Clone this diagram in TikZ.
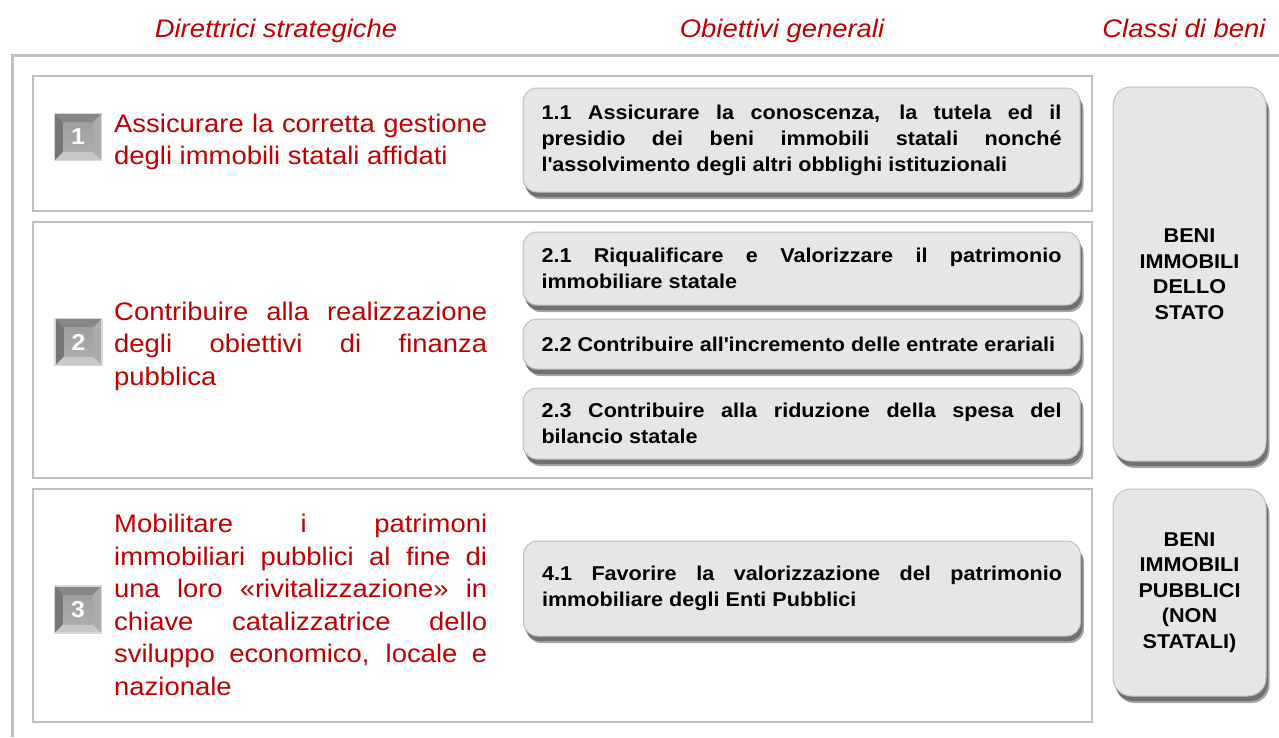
\documentclass[tikz,border=0pt]{standalone}
\usepackage{fontspec}
\setmainfont[FakeStretch=1.08]{Liberation Sans}
\usetikzlibrary{shadows}
\definecolor{dred}{RGB}{192,0,0}
\definecolor{framegray}{RGB}{192,192,192}
\definecolor{objface}{RGB}{230,230,230}
\definecolor{objrim}{RGB}{190,190,190}
\definecolor{objshadow}{RGB}{112,112,112}
\definecolor{objshadowlight}{RGB}{165,165,165}
\definecolor{badgerim}{RGB}{215,215,215}
\definecolor{badgetop}{RGB}{135,135,135}
\definecolor{badgeleft}{RGB}{118,118,118}
\definecolor{badgeright}{RGB}{172,172,172}
\definecolor{badgebot}{RGB}{200,200,200}
\definecolor{badgemid}{RGB}{158,158,158}
\begin{document}
\begin{tikzpicture}[x=1pt,y=-1pt,
  header/.style={font=\itshape\fontsize{25.4}{30}\selectfont, text=dred, anchor=base, inner sep=0pt},
  outerframe/.style={draw=framegray, line width=3pt},
  section/.style={draw=framegray, line width=2.2pt},
  badge/.style={minimum size=47pt, inner sep=0pt, draw=badgerim, line width=1.5pt, fill=badgemid,
    text=white, font=\bfseries\fontsize{23}{23}\selectfont,
    path picture={
      \fill[badgetop] (path picture bounding box.north west) -- (path picture bounding box.north east) -- (path picture bounding box.center) -- cycle;
      \fill[badgeleft] (path picture bounding box.north west) -- (path picture bounding box.south west) -- (path picture bounding box.center) -- cycle;
      \fill[badgeright] (path picture bounding box.north east) -- (path picture bounding box.south east) -- (path picture bounding box.center) -- cycle;
      \fill[badgebot] (path picture bounding box.south west) -- (path picture bounding box.south east) -- (path picture bounding box.center) -- cycle;
      \shade[top color=badgetop!80!white, bottom color=badgeright] ([shift={(9pt,-9pt)}]path picture bounding box.north west) rectangle ([shift={(-9pt,9pt)}]path picture bounding box.south east);
    }},
  dtext/.style={anchor=west, inner sep=0pt, text width=373pt, align=justify, text=dred,
    font=\fontsize{25.4}{32.5}\selectfont},
  raised/.style={fill=objface, draw=objrim, line width=1pt,
    general shadow={fill=objshadowlight, shadow xshift=3.5pt, shadow yshift=-7pt},
    general shadow={fill=objshadow, shadow xshift=2pt, shadow yshift=-5pt}},
  objbox/.style={raised, rounded corners=14pt,
    minimum width=557pt, text width=520pt, align=justify, inner xsep=18.5pt, inner ysep=0pt,
    font=\bfseries\fontsize{20}{26}\selectfont},
  classbox/.style={raised, rounded corners=18pt,
    minimum width=153pt, text width=150pt, align=center, inner xsep=1.5pt, inner ysep=0pt,
    font=\bfseries\fontsize{20}{25.5}\selectfont}
]
\useasboundingbox (0,0) rectangle (1279,737);

% headers
\node[header] (h1) at (276,37) {Direttrici strategiche};
\node[header] (h2) at (782,37) {Obiettivi generali};
\node[header] (h3) at (1184,37) {Classi di beni};

% frames
\draw[outerframe] (12,737) -- (12,55) -- (1279,55);
\draw[section] (33,76) rectangle (1092,211);
\draw[section] (33,222) rectangle (1092,478);
\draw[section] (33,489) rectangle (1092,722);

% badges and strategic directions
\node[badge] (b1) at (78,137) {1};
\node[dtext] (d1) at (114,142) {Assicurare la corretta gestione\linebreak degli immobili statali affidati};

\node[badge] (b2) at (78.5,342) {2};
\node[dtext] (d2) at (114,346) {Contribuire alla realizzazione\linebreak degli obiettivi di finanza\linebreak pubblica};

\node[badge] (b3) at (78,609.5) {3};
\node[dtext] (d3) at (114,605) {Mobilitare i patrimoni\linebreak immobiliari pubblici al fine di\linebreak una loro «rivitalizzazione» in\linebreak chiave catalizzatrice dello\linebreak sviluppo economico, locale e\linebreak nazionale};

% general objectives
\node[objbox, minimum height=104pt] (o11) at (801.5,140) {1.1 Assicurare la conoscenza, la tutela ed il\linebreak presidio dei beni immobili statali nonché\linebreak l\textquotesingle assolvimento degli altri obblighi istituzionali};
\node[objbox, minimum height=73pt] (o21) at (801.5,268.5) {2.1 Riqualificare e Valorizzare il patrimonio\linebreak immobiliare statale};
\node[objbox, minimum height=50pt] (o22) at (801.5,344) {2.2 Contribuire all\textquotesingle incremento delle entrate erariali};
\node[objbox, minimum height=71pt] (o23) at (801.5,423.5) {2.3 Contribuire alla riduzione della spesa del\linebreak bilancio statale};
\node[objbox, minimum height=95pt] (o41) at (802,588.5) {4.1 Favorire la valorizzazione del patrimonio\linebreak immobiliare degli Enti Pubblici};

% asset classes
\node[classbox, minimum height=374pt] (c1) at (1189.5,274) {BENI\\IMMOBILI\\DELLO\\STATO};
\node[classbox, minimum height=207pt] (c2) at (1189.5,592.5) {BENI\\IMMOBILI\\PUBBLICI\\(NON\\STATALI)};
\end{tikzpicture}
\end{document}
